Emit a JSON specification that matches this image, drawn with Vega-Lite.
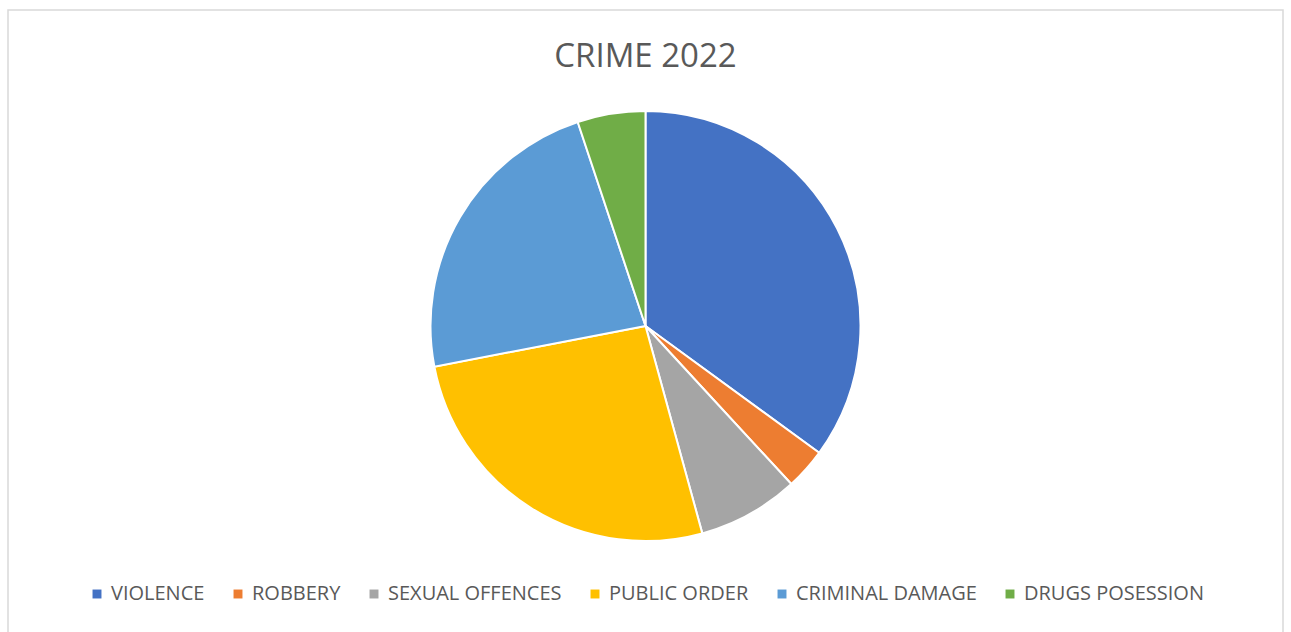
{
  "$schema": "https://vega.github.io/schema/vega-lite/v6.json",
  "width": 1275,
  "height": 632,
  "autosize": "none",
  "padding": {"left": 8, "top": 10, "right": 8, "bottom": 0},
  "background": "white",
  "title": {
    "text": "CRIME 2022",
    "font": "Open Sans",
    "fontSize": 33,
    "fontWeight": "normal",
    "color": "#595959",
    "anchor": "middle",
    "offset": -65
  },
  "layer": [
    {
      "data": {"values": [{"frame": 1}]},
      "mark": {"type": "rect", "fill": null, "stroke": "#d9d9d9", "strokeWidth": 1.5}
    },
    {
      "data": {
        "values": [
          {"crime": "VIOLENCE", "value": 35.0, "order": 1},
          {"crime": "ROBBERY", "value": 3.1, "order": 2},
          {"crime": "SEXUAL OFFENCES", "value": 7.6, "order": 3},
          {"crime": "PUBLIC ORDER", "value": 26.2, "order": 4},
          {"crime": "CRIMINAL DAMAGE", "value": 22.9, "order": 5},
          {"crime": "DRUGS POSESSION", "value": 5.1, "order": 6}
        ]
      },
      "mark": {"type": "arc", "outerRadius": 215, "stroke": "white", "strokeWidth": 2},
      "encoding": {
        "theta": {"field": "value", "type": "quantitative", "stack": true},
        "order": {"field": "order", "type": "quantitative"},
        "color": {
          "field": "crime",
          "type": "nominal",
          "sort": ["VIOLENCE", "ROBBERY", "SEXUAL OFFENCES", "PUBLIC ORDER", "CRIMINAL DAMAGE", "DRUGS POSESSION"],
          "scale": {"range": ["#4472C4", "#ED7D31", "#A5A5A5", "#FFC000", "#5B9BD5", "#70AD47"]},
          "legend": {
            "title": null,
            "orient": "bottom",
            "direction": "horizontal",
            "offset": -58,
            "symbolType": "square",
            "symbolSize": 80,
            "symbolStrokeWidth": 0,
            "labelFont": "Open Sans",
            "labelFontSize": 20,
            "labelLimit": 400,
            "labelColor": "#595959",
            "labelOffset": 4,
            "columnPadding": 23
          }
        }
      }
    }
  ],
  "config": {
    "view": {"stroke": null},
    "legend": {"layout": {"bottom": {"anchor": "middle"}}}
  }
}
